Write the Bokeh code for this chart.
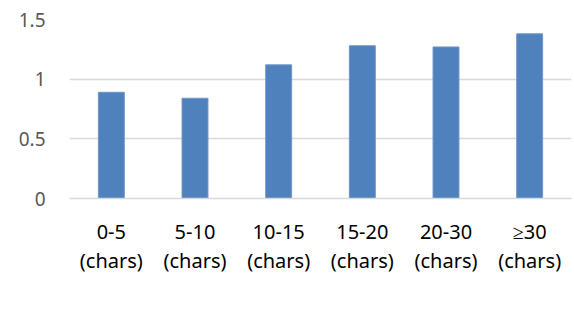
from bokeh.plotting import figure
from bokeh.models import ColumnDataSource, Legend, LegendItem, FixedTicker, Range1d
from bokeh.embed import file_html
from bokeh.resources import INLINE

categories = ["0-5\n(chars)", "5-10\n(chars)", "10-15\n(chars)", "15-20\n(chars)", "20-30\n(chars)", "\u226530\n(chars)"]
improvement = [0.89, 0.84, 1.12, 1.28, 1.27, 1.38]
y_ticks = [0, 0.5, 1, 1.5]
series_name = "Improvement(%)"

FONT = "Noto Sans"

source = ColumnDataSource(data=dict(cat=categories, val=improvement))

p = figure(width=574, height=320, x_range=categories, y_range=Range1d(0, 1.5),
           output_backend="svg", toolbar_location=None,
           min_border_left=69, min_border_right=3, min_border_top=19, min_border_bottom=122)
p.outline_line_color = None
p.background_fill_color = "white"

r = p.vbar(x="cat", top="val", width=0.31, source=source,
           fill_color="#4F81BD", line_color="#6F96C8", line_width=1)

p.yaxis.ticker = FixedTicker(ticks=y_ticks)
p.yaxis.axis_line_color = None
p.yaxis.major_tick_line_color = None
p.yaxis.minor_tick_line_color = None
p.yaxis.major_label_text_font = FONT
p.yaxis.major_label_text_font_size = "19px"
p.yaxis.major_label_text_color = "#595959"
p.yaxis.major_label_standoff = 18
p.yaxis.major_label_overrides = {0: "0", 0.5: "0.5", 1: "1", 1.5: "1.5"}

p.xaxis.axis_line_color = "#D9D9D9"
p.xaxis.axis_line_width = 1.5
p.xaxis.major_tick_line_color = None
p.xaxis.minor_tick_line_color = None
p.xaxis.major_label_text_font = FONT
p.xaxis.major_label_text_font_size = "20px"
p.xaxis.major_label_text_color = "#000000"
p.xaxis.major_label_standoff = 13
p.xaxis.major_label_text_line_height = 1.1

p.xgrid.grid_line_color = None
p.ygrid.grid_line_color = "#D9D9D9"
p.ygrid.grid_line_width = 1.5

legend = Legend(items=[LegendItem(label=series_name, renderers=[r])],
                orientation="horizontal", location=(123, -116),
                label_text_font=FONT, label_text_font_size="21px",
                label_text_color="#000000", label_text_baseline="middle",
                glyph_width=16, glyph_height=16, label_height=16, label_standoff=9,
                border_line_color=None, background_fill_alpha=0,
                padding=0, margin=0)
p.add_layout(legend)

open("out.html", "w").write(file_html(p, INLINE))
